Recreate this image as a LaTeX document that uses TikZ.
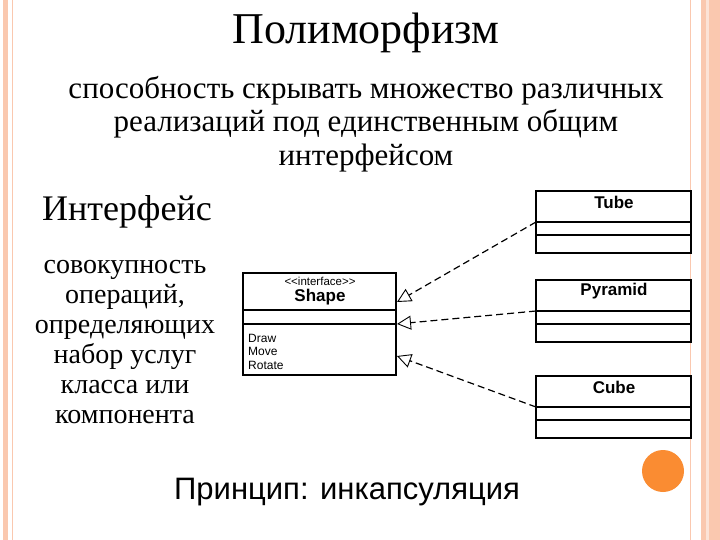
\documentclass[tikz,border=0pt]{standalone}
\usepackage{fontspec}
\setmainfont{Liberation Serif}
\newfontfamily\uml{Liberation Sans}
\usetikzlibrary{arrows.meta}
\definecolor{peach}{RGB}{250,200,175}
\definecolor{orng}{RGB}{250,140,50}
\begin{document}
\begin{tikzpicture}[x=1pt,y=-1pt,
  box/.style={draw,line width=1.3pt},
  real/.style={line width=1.2pt,dash pattern=on 7pt off 4pt,-{Triangle[open,length=14pt,width=14pt,line width=0.9pt]}},
  umlt/.style={font=\uml\bfseries\fontsize{17}{19}\selectfont}]
\useasboundingbox (0,0) rectangle (720,540);
\fill[white] (0,0) rectangle (720,540);
% borders
\fill[peach] (3,0) rectangle (8,540);
\draw[peach,line width=0.8pt] (12,0) -- (12,540);
\draw[peach,line width=0.8pt] (690,0) -- (690,540);
\fill[peach] (701,0) rectangle (720,540);
\fill[peach!50] (706,0) rectangle (709,540);
\fill[orng] (663,471) circle (21);
% texts
\node[font=\fontsize{44}{48}\selectfont] (title) at (366,33) {Полиморфизм};
\node[align=center,font=\fontsize{31}{33.5}\selectfont] (sub) at (366,124) {способность скрывать множество различных\\реализаций под единственным общим\\интерфейсом};
\node[font=\fontsize{36}{38}\selectfont] (iface) at (127,212) {Интерфейс};
\node[align=center,font=\fontsize{28}{30}\selectfont] (def) at (125,342) {совокупность\\операций,\\определяющих\\набор услуг\\класса или\\компонента};
\node[font=\uml\fontsize{31}{34}\selectfont] (princ) at (347,492) {Принцип: инкапсуляция};
% Shape
\draw[box] (243,273) rectangle (396,375);
\draw[box] (243,310) -- (396,310);
\draw[box] (243,324) -- (396,324);
\node[font=\uml\fontsize{11.5}{12}\selectfont] (st) at (320,281) {<<interface>>};
\node[umlt] (sn) at (320,297) {Shape};
\node[font=\uml\fontsize{12}{13.5}\selectfont,align=left,anchor=north west,inner sep=0pt] (ops) at (248,334) {Draw\\Move\\Rotate};
\coordinate (s1) at (397,302);
\coordinate (s2) at (397,324);
\coordinate (s3) at (397,356);
% Realizations
\foreach \n/\t/\top in {tube/Tube/191, pyr/Pyramid/280, cube/Cube/376}{
  \draw[box] (536,\top) rectangle (691,\top+62);
  \draw[box] (536,\top+31) -- (691,\top+31);
  \draw[box] (536,\top+44) -- (691,\top+44);
  \node[umlt] (\n) at (614,\top+11) {\t};
  \coordinate (\n a) at (536,\top+31);
}
\draw[real] (tubea) -- (s1);
\draw[real] (pyra) -- (s2);
\draw[real] (cubea) -- (s3);
\end{tikzpicture}
\end{document}
